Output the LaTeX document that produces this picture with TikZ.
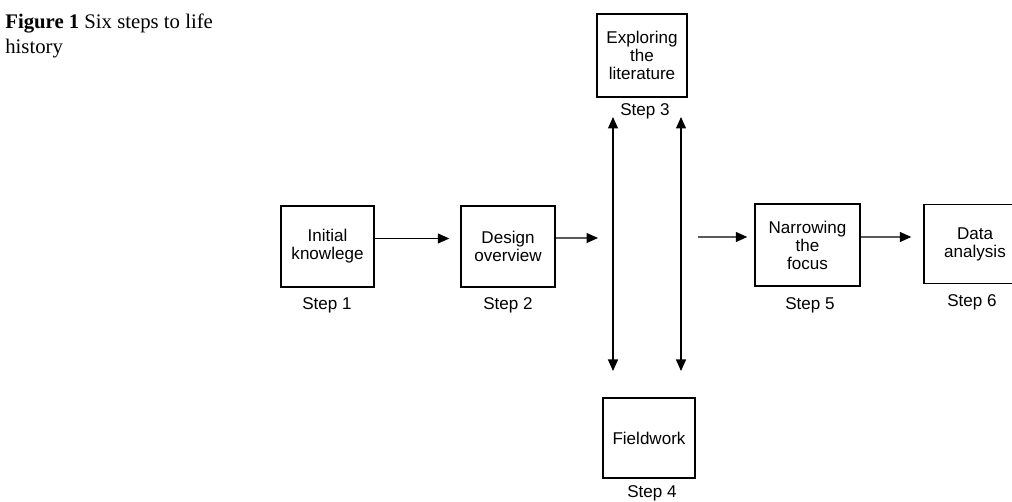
\documentclass[tikz,border=0pt]{standalone}
\usepackage{fontspec}
\setmainfont{Liberation Serif}
\setsansfont{Liberation Sans}
\usetikzlibrary{arrows.meta}

\tikzset{
    stepbox/.style={draw, line width=0.8pt, inner sep=0pt, align=center,
        font=\sffamily\fontsize{9.7}{10.2}\selectfont},
    steplabel/.style={inner sep=0pt, font=\sffamily\fontsize{9.7}{10.2}\selectfont},
    flow/.style={-{Triangle[length=2.3mm,width=2mm]}, line width=0.7pt},
    twoway/.style={{Triangle[length=2.3mm,width=2mm]}-{Triangle[length=2.3mm,width=2mm]}, line width=0.7pt},
}

\begin{document}
\begin{tikzpicture}[x=0.2mm,y=-0.2mm]
    \useasboundingbox (0,0) rectangle (1012,502);
    \clip (0,0) rectangle (1012,502);

    % caption
    \node [anchor=base west, inner sep=0pt, font=\fontsize{11.8}{14}\selectfont] (cap1) at (5,28.5)
        {\textbf{Figure 1} Six steps to life};
    \node [anchor=base west, inner sep=0pt, font=\fontsize{11.8}{14}\selectfont] (cap2) at (5,54) {history};

    % boxes
    \node [stepbox, minimum width=18.6mm, minimum height=16.2mm] (box1) at (327.5,246.5) {Initial\\knowlege};
    \node [stepbox, minimum width=18.8mm, minimum height=16.2mm] (box2) at (508,246.5) {Design\\overview};
    \node [stepbox, minimum width=18mm, minimum height=16.6mm] (box3) at (642,55.5) {Exploring\\the\\literature};
    \node [stepbox, minimum width=18.4mm, minimum height=16mm] (box4) at (649,438) {Fieldwork};
    \node [stepbox, minimum width=21mm, minimum height=16.4mm] (box5) at (807.5,245) {Narrowing\\the\\focus};
    \node [stepbox, minimum width=20.4mm, minimum height=15.8mm] (box6) at (975,244) {Data\\analysis};

    % step labels
    \node [steplabel] (lbl1) at (327,305) {Step 1};
    \node [steplabel] (lbl2) at (508,305) {Step 2};
    \node [steplabel] (lbl3) at (645,111) {Step 3};
    \node [steplabel] (lbl4) at (652,493) {Step 4};
    \node [steplabel] (lbl5) at (810,305) {Step 5};
    \node [steplabel] (lbl6) at (972,302) {Step 6};

    % free ends
    \coordinate (in34) at (598,238);
    \coordinate (out34) at (698,237);
    \coordinate (l3) at (613,117);
    \coordinate (l4) at (613,371);
    \coordinate (r3) at (681,117);
    \coordinate (r4) at (681,371);

    % arrows
    \draw [flow, shorten >=2.2mm] ([yshift=1.6mm]box1.east) -- ([yshift=1.6mm]box2.west);
    \draw [flow] ([yshift=1.7mm]box2.east) -- (in34);
    \draw [flow, shorten >=1.4mm] (out34) -- ([yshift=1.6mm]box5.west);
    \draw [flow, shorten >=2.4mm] ([yshift=1.6mm]box5.east) -- ([yshift=1.4mm]box6.west);
    \draw [twoway] (l3) -- (l4);
    \draw [twoway] (r3) -- (r4);
\end{tikzpicture}
\end{document}
